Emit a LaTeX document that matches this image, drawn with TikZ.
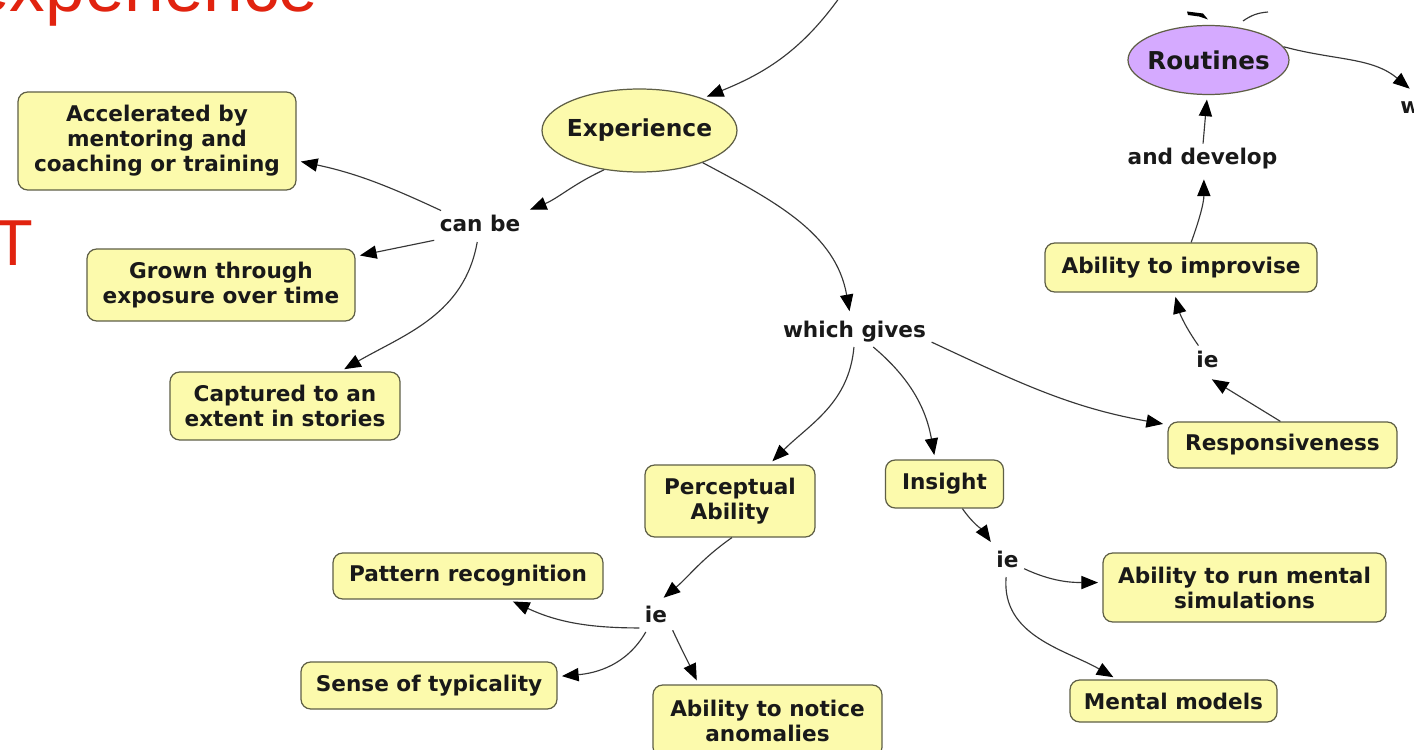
\documentclass[tikz,border=0pt]{standalone}
\usepackage{fontspec}
\setmainfont{DejaVu Sans}
\newfontfamily\redfont{Liberation Sans}
\usetikzlibrary{arrows.meta,shapes.geometric}
\definecolor{boxfill}{RGB}{252,250,172}
\definecolor{boxline}{RGB}{95,95,70}
\definecolor{routfill}{RGB}{213,170,255}
\definecolor{linkcol}{RGB}{55,55,55}
\definecolor{titlered}{RGB}{225,35,15}
\definecolor{txt}{RGB}{25,25,25}
\tikzset{
  concept/.style={draw=boxline, line width=0.7pt, fill=boxfill, rounded corners=5.5pt,
    align=center, inner sep=0pt, text=txt, font=\bfseries\fontsize{12.3}{14.2}\selectfont},
  oval/.style={ellipse, draw=boxline, line width=0.7pt, fill=boxfill, inner sep=0pt,
    text=txt, font=\bfseries\fontsize{13.3}{15}\selectfont},
  linklabel/.style={inner sep=3pt, text height=9pt, text depth=2.5pt, anchor=base,
    text=txt, font=\bfseries\fontsize{12.3}{14.2}\selectfont},
  link/.style={draw=linkcol, line width=0.65pt,
    -{Triangle[length=9.5pt,width=7.5pt,color=black]}, shorten >=2.5pt},
}
\begin{document}
\begin{tikzpicture}[x=0.02cm,y=0.02cm]
\useasboundingbox (0,0) rectangle (1414,-750);
\clip (0,0) rectangle (1414,-750);
\fill[white] (0,0) rectangle (1414,-750);

% red title fragments
\node[anchor=base west, inner sep=0, text=titlered, font=\redfont\fontsize{40.5}{48}\selectfont] (title) at (-30,-12) {experience};
\node[anchor=base west, inner sep=0, text=titlered, font=\redfont\fontsize{37}{44}\selectfont] (tee) at (-6.8,-265) {T};

% concepts
\node[concept, minimum width=5.56cm, minimum height=1.96cm] (acc) at (157,-141) {Accelerated by\\mentoring and\\coaching or training};
\node[concept, minimum width=5.36cm, minimum height=1.44cm] (grown) at (221,-285) {Grown through\\exposure over time};
\node[concept, minimum width=4.60cm, minimum height=1.36cm] (cap) at (285,-406) {Captured to an\\extent in stories};
\node[oval, minimum width=3.90cm, minimum height=1.66cm] (exp) at (639.5,-130.5) {\makebox[0pt]{Experience}};
\node[concept, minimum width=3.40cm, minimum height=1.44cm] (perc) at (730,-501) {Perceptual\\Ability};
\node[concept, minimum width=2.36cm, minimum height=0.96cm] (ins) at (944.5,-484) {Insight};
\node[concept, minimum width=4.58cm, minimum height=0.92cm] (resp) at (1282.5,-445) {Responsiveness};
\node[concept, minimum width=5.44cm, minimum height=0.98cm] (imp) at (1181,-267.5) {Ability to improvise};
\node[oval, fill=routfill, minimum width=3.22cm, minimum height=1.38cm, font=\bfseries\fontsize{14}{16}\selectfont] (rout) at (1208.5,-60) {\makebox[0pt]{Routines}};
\node[concept, minimum width=5.40cm, minimum height=0.92cm] (pat) at (468,-576) {Pattern recognition};
\node[concept, minimum width=5.12cm, minimum height=0.94cm] (sense) at (429,-685.5) {Sense of typicality};
\node[concept, minimum width=4.58cm, minimum height=1.44cm] (notice) at (767.5,-721) {Ability to notice\\anomalies};
\node[concept, minimum width=5.66cm, minimum height=1.38cm] (run) at (1244.5,-587.5) {Ability to run mental\\simulations};
\node[concept, minimum width=4.14cm, minimum height=0.84cm] (ment) at (1173.5,-701) {Mental models};

% linking phrases
\node[linklabel] (canbe) at (480,-232) {can be};
\node[linklabel] (gives) at (854.5,-337) {which gives};
\node[linklabel] (ieR) at (1207.5,-367) {ie};
\node[linklabel] (dev) at (1202.5,-165) {and develop};
\node[linklabel, anchor=base west] (w) at (1394.7,-113) {w};
\node[linklabel] (ieL) at (656,-622) {ie};
\node[linklabel] (ieI) at (1007.5,-567) {ie};

% connectors
\coordinate (topin) at (842,6);
\draw[link] (topin) to[out=235,in=22] (exp.27);
\draw[link] (exp.228) to[out=205,in=22] (canbe.18);
\draw[link] (canbe.158) to[out=155,in=-12] (acc.-8);
\draw[link] (canbe.197) -- (grown.12);
\draw[link] (canbe.-100) to[out=-100,in=30] (cap.32);
\draw[link] (exp.-27) to[out=-28,in=100] (gives.105);
\draw[link] (gives.-92) to[out=-95,in=45] (perc.43);
\draw[link] (gives.-40) to[out=-40,in=100] (ins.111);
\draw[link] (gives.-8) to[out=-25,in=170] (resp.170);
\draw[link] (resp.95) -- (ieR.-88);
\draw[link] (ieR.120) to[out=125,in=-75] (imp.-105);
\draw[link] (imp.68) to[out=70,in=-90] (dev.-85);
\draw[link] (dev.88) -- (rout.-92);
\draw[link] (rout.10) to[out=-15,in=140] (w.80);
\draw[link] (perc.-87) to[out=215,in=40] (ieL.75);
\draw[link] (ieL.215) to[out=180,in=-25] (pat.-30);
\draw[link] (ieL.237) to[out=240,in=5] (sense.4);
\draw[link] (ieL.-40) to[out=-65,in=115] (notice.152);
\draw[link] (ins.-54) to[out=-55,in=125] (ieI.132);
\draw[link] (ieI.-24) to[out=-25,in=180] (run.178);
\draw[link] (ieI.-95) to[out=-95,in=150] (ment.159);

% fragments of cut-off connectors above Routines
\fill[black] (1187,-11.5) -- (1203,-13.5) -- (1208,-19.5) -- (1199,-16.5) -- (1188,-15) -- cycle;
\draw[linkcol, line width=0.65pt] (1243,-21) to[bend left=15] (1268,-12);
\end{tikzpicture}
\end{document}
